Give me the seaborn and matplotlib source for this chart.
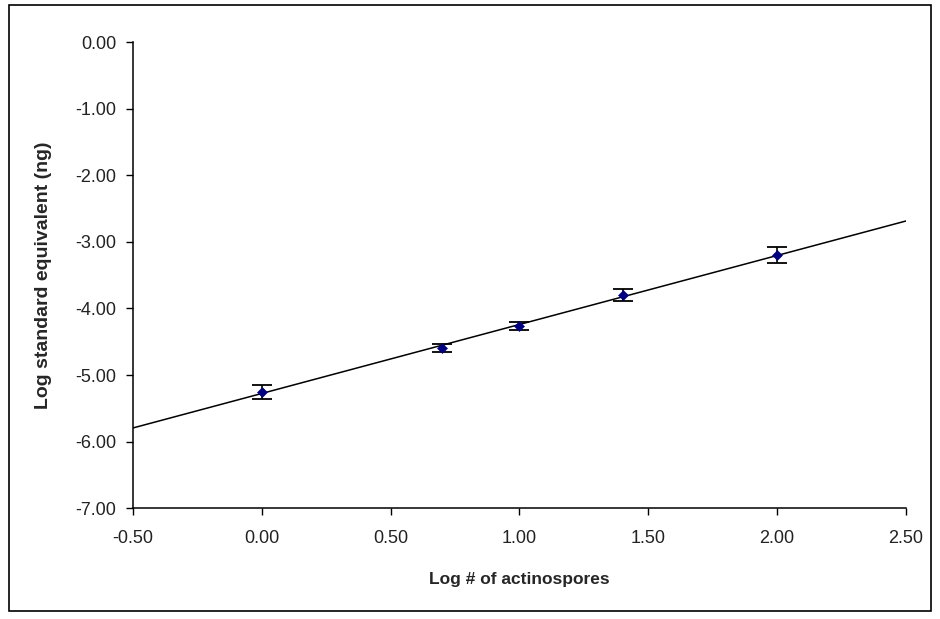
import matplotlib
matplotlib.use("Agg")
import matplotlib.pyplot as plt
import seaborn as sns
import numpy as np
import pandas as pd
from matplotlib.patches import Rectangle

# values
log_spores = [0.00, 0.70, 1.00, 1.40, 2.00]
log_std_eq = [-5.25, -4.59, -4.26, -3.80, -3.20]
std_err = [0.105, 0.06, 0.06, 0.09, 0.12]

df = pd.DataFrame({"x": log_spores, "y": log_std_eq, "err": std_err})

sns.set_style("white")
plt.rcParams["font.family"] = ["Liberation Sans", "DejaVu Sans"]

fig = plt.figure(figsize=(9.4, 6.19), dpi=100)
ax = fig.add_axes([0.1415, 0.179, 0.8223, 0.753])

ax.set_xlim(-0.5, 2.5)
ax.set_ylim(-7, 0)

# trendline across the whole x range
sns.regplot(data=df, x="x", y="y", ax=ax, ci=None, truncate=False, scatter=False,
            line_kws=dict(color="black", lw=1.1))

ax.errorbar(df["x"], df["y"], yerr=df["err"], fmt="none", ecolor="black",
            elinewidth=1.2, capsize=7, capthick=1.3, zorder=3)
sns.scatterplot(data=df, x="x", y="y", ax=ax, marker="D", s=26, color="#000080",
                edgecolor="#000080", zorder=4)

ax.set_xlim(-0.5, 2.5)
ax.set_ylim(-7, 0)
ax.set_xticks(np.arange(-0.5, 2.51, 0.5))
ax.set_yticks(np.arange(-7, 0.01, 1))
ax.xaxis.set_major_formatter(matplotlib.ticker.FormatStrFormatter("%.2f"))
ax.yaxis.set_major_formatter(matplotlib.ticker.FormatStrFormatter("%.2f"))
ax.tick_params(axis="both", direction="out", length=5, width=1, color="black",
               labelsize=13, labelcolor="#222222", bottom=True, left=True)
ax.tick_params(axis="x", pad=11)
ax.tick_params(axis="y", pad=7)
for s in ["top", "right"]:
    ax.spines[s].set_visible(False)
for s in ["left", "bottom"]:
    ax.spines[s].set_color("black")
    ax.spines[s].set_linewidth(1.1)

ax.set_xlabel("Log # of actinospores", fontsize=12.5, fontweight="bold", labelpad=18)
ax.set_ylabel("Log standard equivalent (ng)", fontsize=14, fontweight="bold", labelpad=17)

# outer chart frame
fig.patches.append(Rectangle((9 / 940, 8 / 619), 922 / 940, 606 / 619, transform=fig.transFigure,
                             fill=False, edgecolor="black", lw=1.2))

fig.savefig("out.png", dpi=100)
